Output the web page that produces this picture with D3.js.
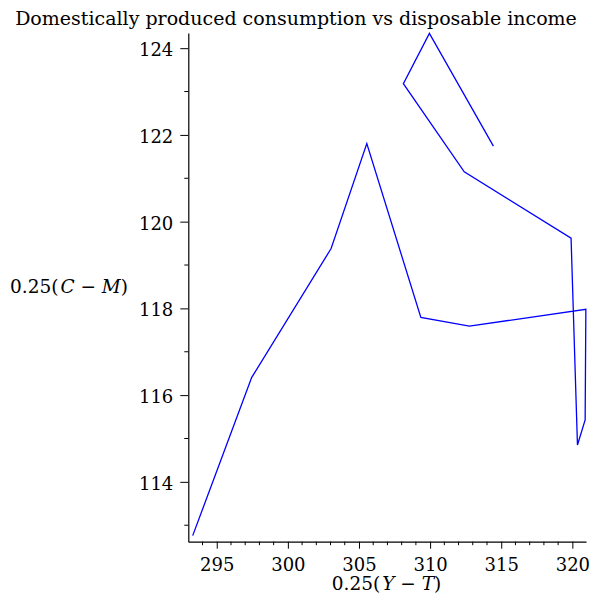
<!DOCTYPE html>
<html>
<head>
<meta charset="utf-8">
<script src="https://cdn.jsdelivr.net/npm/d3@7"></script>
<style>
  html, body { margin: 0; padding: 0; background: #fff; }
  svg { display: block; }
  text { font-family: "DejaVu Serif", serif; fill: #000; }
</style>
</head>
<body>
<svg id="chart" width="590" height="595"></svg>
<script>
// Data (path order)
const incomeX = [293.31, 297.46, 303.04, 305.55, 309.35, 312.76, 320.95, 320.90, 320.36, 319.91, 312.40, 308.12, 309.95, 314.45];
const consumptionY = [112.76, 116.41, 119.38, 121.80, 117.79, 117.59, 117.98, 115.43, 114.85, 119.62, 121.15, 123.18, 124.34, 121.74];
const xTicks = [295, 300, 305, 310, 315, 320];
const yTicks = [114, 116, 118, 120, 122, 124];
const xDomain = [293.0, 320.96];
const yDomain = [112.62, 124.35];
const title = "Domestically produced consumption vs disposable income";

(function () {
const svg = d3.select("#chart");
const mLeft = 188.3, mRight = 586, mTop = 33, mBottom = 541.7;
const x = d3.scaleLinear().domain(xDomain).range([mLeft, mRight]);
const y = d3.scaleLinear().domain(yDomain).range([mBottom, mTop]);

// minor ticks
const xMinor = d3.range(294, 321, 1).filter(v => v % 5 !== 0);
const yMinor = d3.range(113, 125, 2);

const fsTick = 18, fsLabel = 18.5, fsTitle = 19;

// X axis
const xAxis = d3.axisBottom(x).tickValues(xTicks).tickSize(7).tickSizeOuter(0).tickPadding(10);
const gx = svg.append("g").attr("transform", `translate(0,${mBottom})`).call(xAxis);
gx.selectAll(".tick line").attr("stroke", "#000");
gx.select(".domain").attr("stroke", "#000").attr("stroke-width", 1.2);
gx.selectAll(".tick text").attr("font-family", "DejaVu Serif").attr("font-size", fsTick).attr("dy", "0.68em");
gx.selectAll(".minor").data(xMinor).enter().append("line")
  .attr("x1", d => x(d)).attr("x2", d => x(d)).attr("y1", 0).attr("y2", 3.5).attr("stroke", "#000");

// Y axis
const yAxis = d3.axisLeft(y).tickValues(yTicks).tickSize(8).tickSizeOuter(0).tickPadding(7);
const gy = svg.append("g").attr("transform", `translate(${mLeft},0)`).call(yAxis);
gy.selectAll(".tick line").attr("stroke", "#000");
gy.select(".domain").attr("stroke", "#000").attr("stroke-width", 1.2);
gy.selectAll(".tick text").attr("font-family", "DejaVu Serif").attr("font-size", fsTick).attr("dy", "0.42em");
gy.selectAll(".minor").data(yMinor).enter().append("line")
  .attr("x1", -4).attr("x2", 0).attr("y1", d => y(d)).attr("y2", d => y(d)).attr("stroke", "#000");

// Line
const pts = incomeX.map((v, i) => [v, consumptionY[i]]);
svg.append("path").datum(pts)
  .attr("fill", "none").attr("stroke", "#0000ff").attr("stroke-width", 1.3)
  .attr("stroke-linejoin", "miter")
  .attr("d", d3.line().x(d => x(d[0])).y(d => y(d[1])));

// Title
svg.append("text").attr("x", 296).attr("y", 25).attr("text-anchor", "middle")
  .attr("font-size", fsTitle).text(title);

// Axis labels
function mathLabel(sel, a, b) {
  sel.append("tspan").text("0.25(");
  sel.append("tspan").attr("dx", 2).attr("font-style", "italic").text(a);
  sel.append("tspan").text(" \u2212 ");
  sel.append("tspan").attr("font-style", "italic").text(b);
  sel.append("tspan").text(")");
}
const xl = svg.append("text").attr("x", 386.5).attr("y", 590).attr("text-anchor", "middle").attr("font-size", fsLabel);
mathLabel(xl, "Y", "T");
const yl = svg.append("text").attr("x", 10).attr("y", 293).attr("text-anchor", "start").attr("font-size", fsLabel);
mathLabel(yl, "C", "M");
})();
</script>
</body>
</html>
